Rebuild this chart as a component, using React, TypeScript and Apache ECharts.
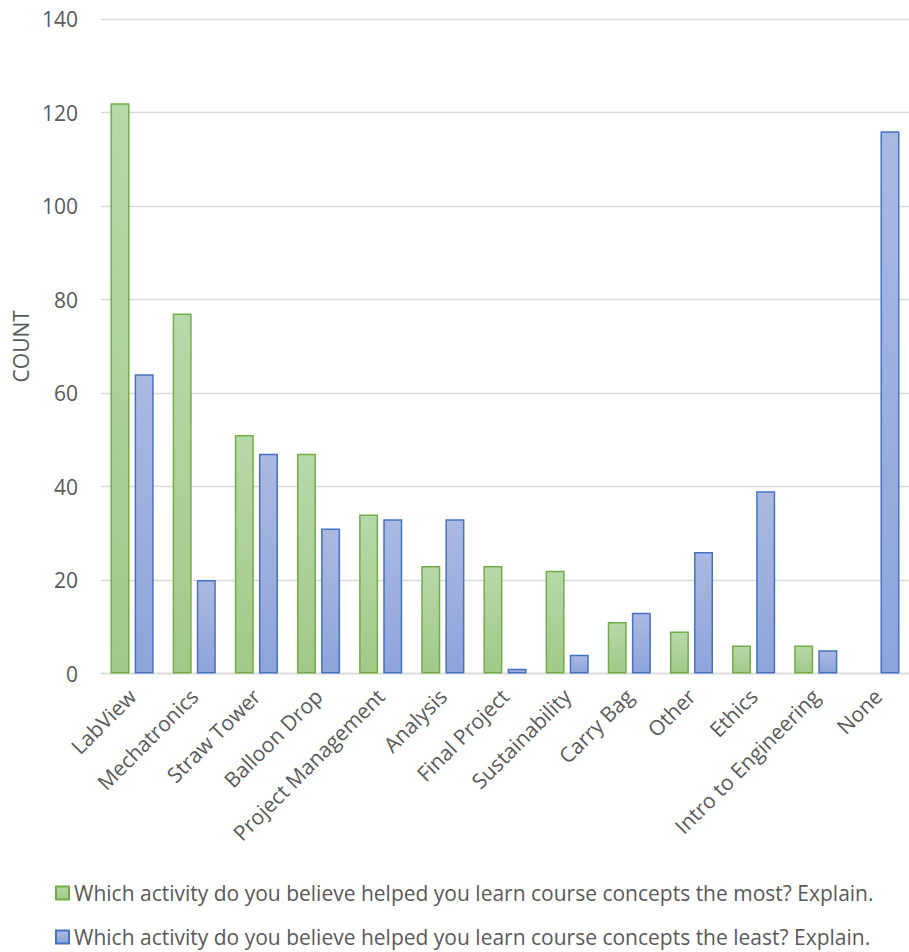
import React, { useEffect, useRef } from "react";
import * as echarts from "echarts";

// Survey answers per activity
const activities = [
  "LabView",
  "Mechatronics",
  "Straw Tower",
  "Balloon Drop",
  "Project Management",
  "Analysis",
  "Final Project",
  "Sustainability",
  "Carry Bag",
  "Other",
  "Ethics",
  "Intro to Engineering",
  "None",
];

const mostSeriesName =
  "Which activity do you believe helped you learn course concepts the most? Explain.";
const leastSeriesName =
  "Which activity do you believe helped you learn course concepts the least? Explain.";

const mostCounts = [122, 77, 51, 47, 34, 23, 23, 22, 11, 9, 6, 6, null];
const leastCounts = [64, 20, 47, 31, 33, 33, 1, 4, 13, 26, 39, 5, 116];

const yMin = 0;
const yMax = 140;
const yStep = 20;

const FONT = "'Open Sans', 'Noto Sans', sans-serif";
const FONT_SIZE = 21;
const TEXT_GRAY = "#595959";

const gradient = (top: string, bottom: string) =>
  new echarts.graphic.LinearGradient(0, 0, 0, 1, [
    { offset: 0, color: top },
    { offset: 1, color: bottom },
  ]);

// one legend row per series, stacked under the axis labels
const legendRow = (name: string, top: number) => ({
  left: 55,
  top,
  padding: 0,
  itemWidth: 13,
  itemHeight: 13,
  icon: "rect",
  textStyle: {
    fontFamily: FONT,
    fontSize: FONT_SIZE,
    lineHeight: 22,
    color: TEXT_GRAY,
  },
  data: [name],
});

export default function App() {
  const ref = useRef<HTMLDivElement>(null);

  useEffect(() => {
    if (!ref.current) return;
    const chart = echarts.init(ref.current, undefined, { renderer: "svg" });

    chart.setOption({
      animation: false,
      backgroundColor: "#ffffff",
      textStyle: { fontFamily: FONT },
      grid: { left: 101, top: 19, width: 821.3, height: 654.5 },
      legend: [legendRow(mostSeriesName, 882), legendRow(leastSeriesName, 926)],
      xAxis: {
        type: "category",
        data: activities,
        axisTick: { show: false },
        axisLine: { lineStyle: { color: "#d9d9d9", width: 1.3 } },
        axisLabel: {
          interval: 0,
          rotate: 45,
          margin: 19,
          fontFamily: FONT,
          fontSize: FONT_SIZE,
          color: TEXT_GRAY,
        },
      },
      yAxis: {
        type: "value",
        min: yMin,
        max: yMax,
        interval: yStep,
        name: "COUNT",
        nameLocation: "middle",
        nameGap: 70,
        nameTextStyle: { fontFamily: FONT, fontSize: FONT_SIZE, color: TEXT_GRAY },
        axisLine: { show: false },
        axisTick: { show: false },
        axisLabel: {
          margin: 23,
          fontFamily: FONT,
          fontSize: FONT_SIZE,
          color: TEXT_GRAY,
        },
        splitLine: { lineStyle: { color: "#d9d9d9", width: 1.3 } },
      },
      series: [
        {
          name: mostSeriesName,
          type: "bar",
          data: mostCounts,
          barWidth: 19,
          barGap: "27%",
          itemStyle: {
            color: gradient("#b7d8a9", "#a1c987"),
            borderColor: "#70ad47",
            borderWidth: 1.5,
          },
        },
        {
          name: leastSeriesName,
          type: "bar",
          data: leastCounts,
          barWidth: 19,
          barGap: "27%",
          itemStyle: {
            color: gradient("#abb9e1", "#8da4da"),
            borderColor: "#4472c4",
            borderWidth: 1.5,
          },
        },
      ],
    });

    return () => chart.dispose();
  }, []);

  return (
    <div
      ref={ref}
      style={{ position: "absolute", left: 0, top: 0, width: 909, height: 952 }}
    />
  );
}
